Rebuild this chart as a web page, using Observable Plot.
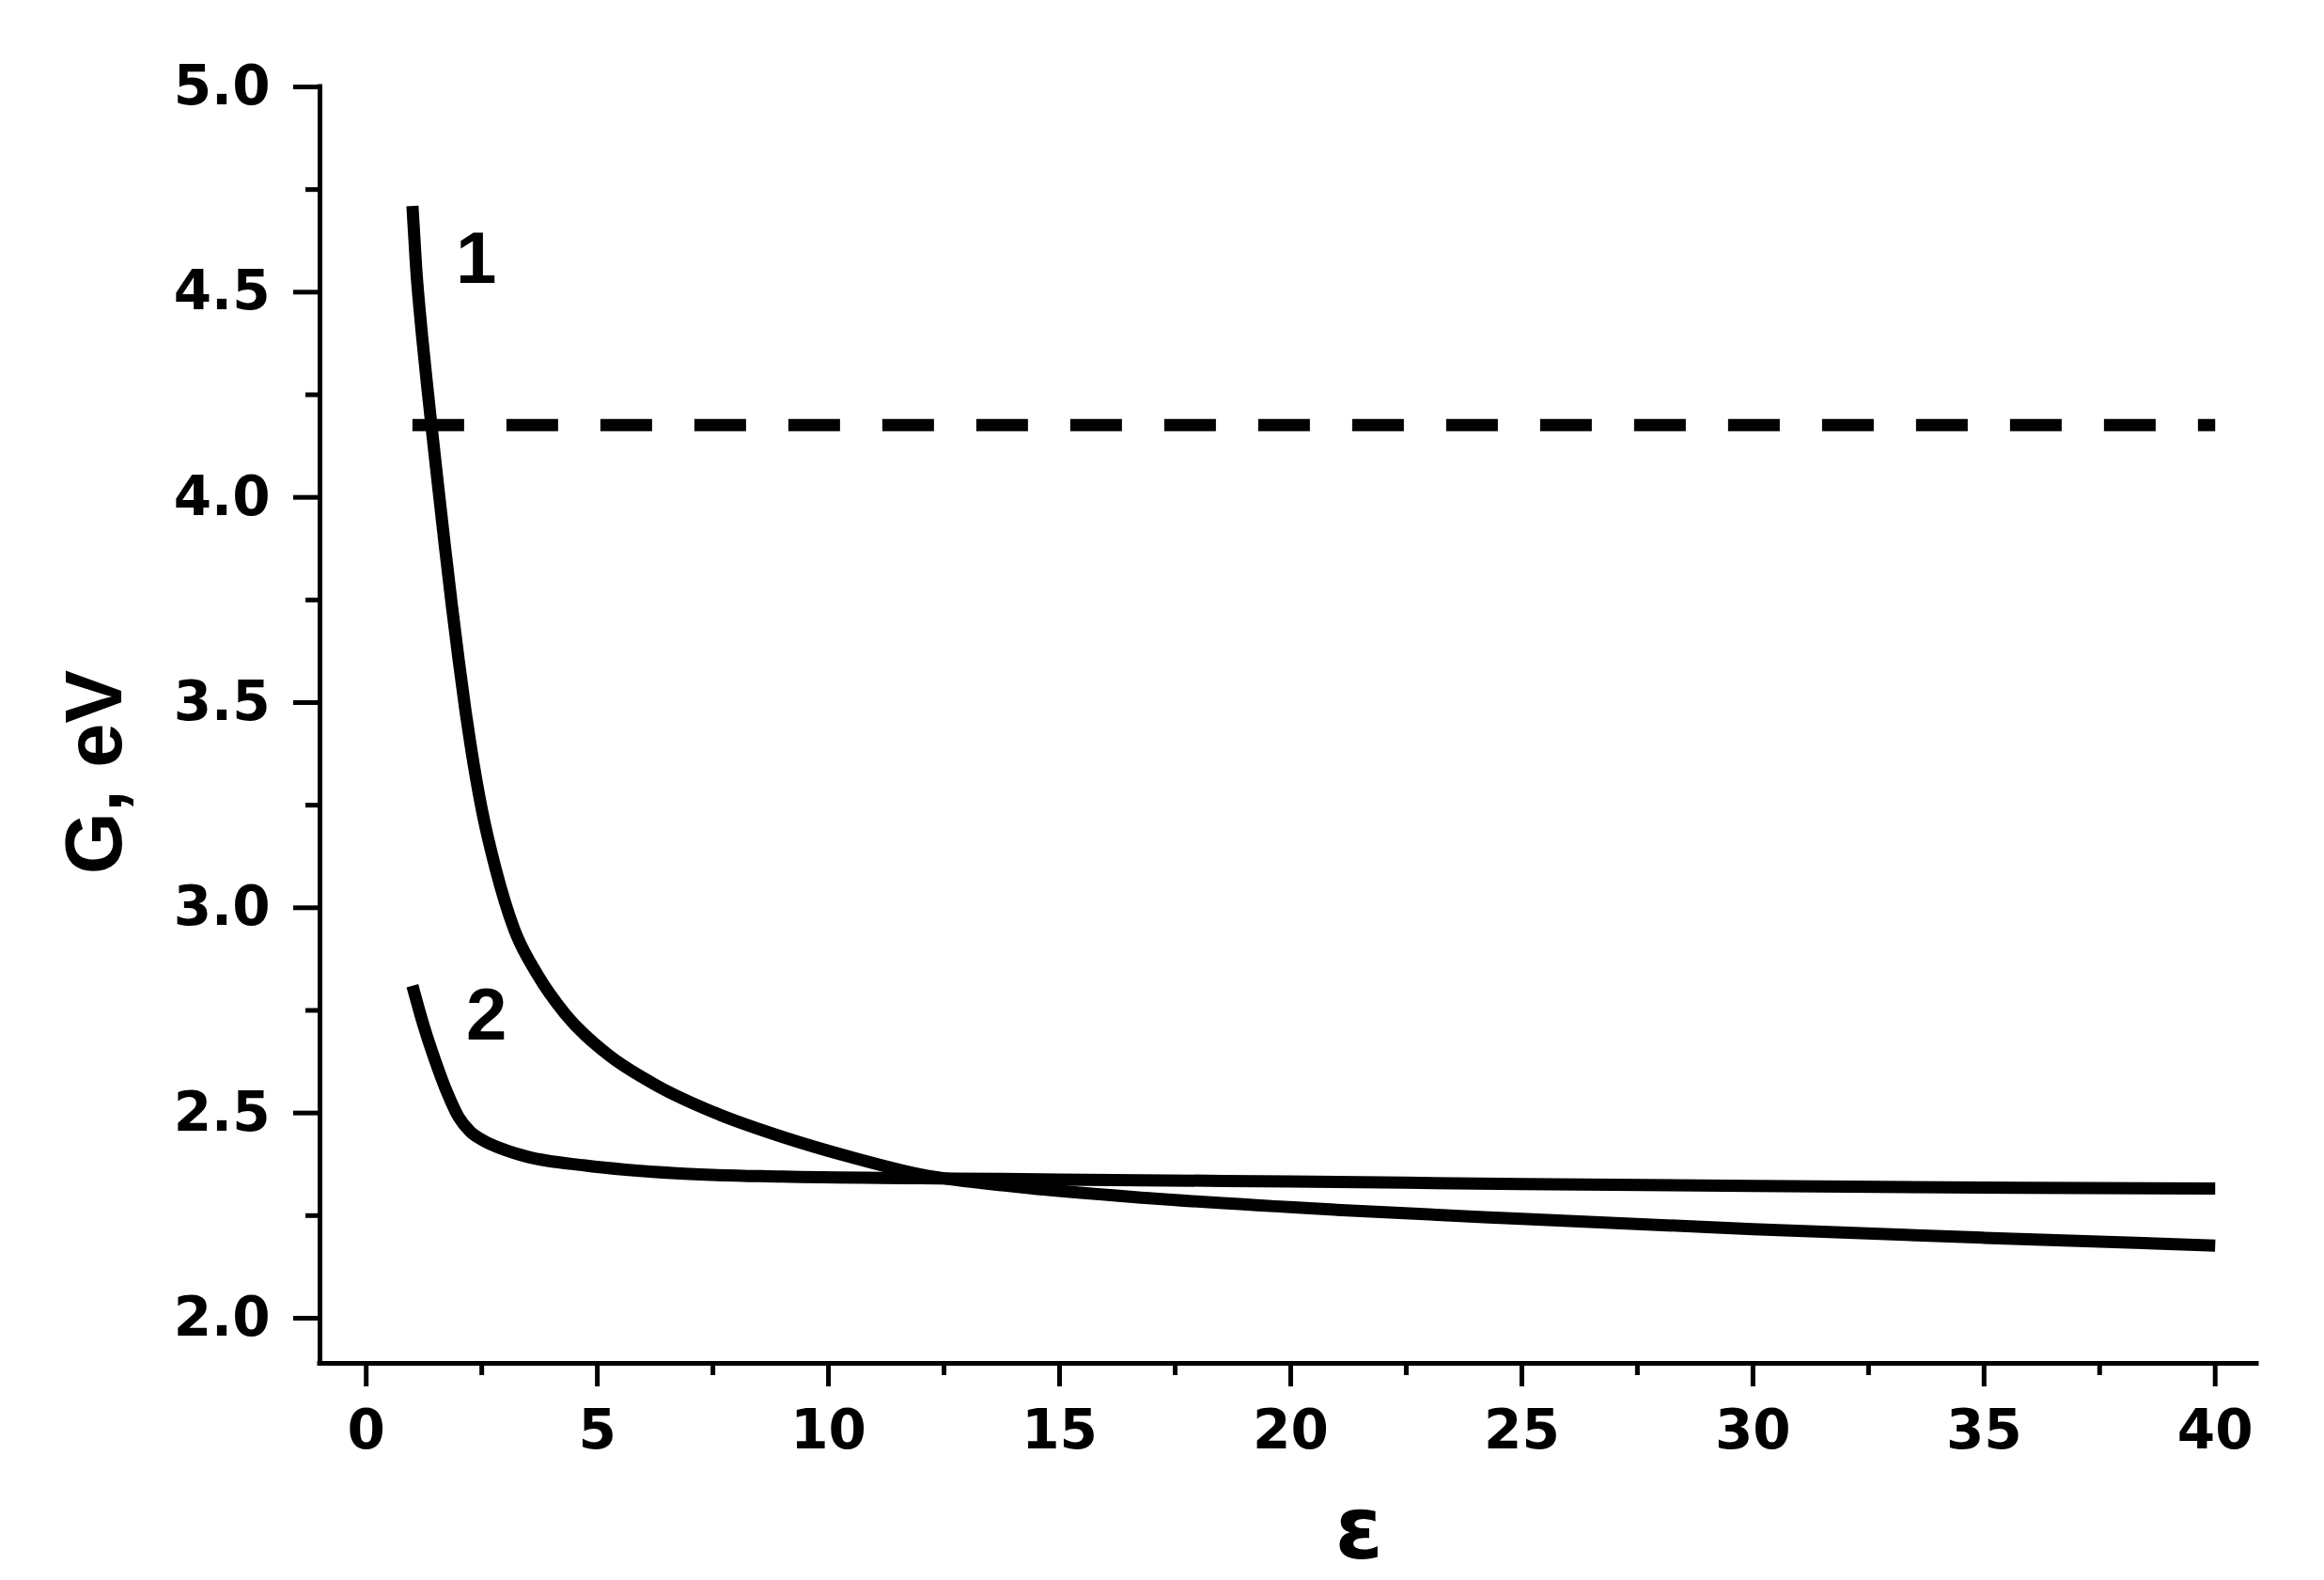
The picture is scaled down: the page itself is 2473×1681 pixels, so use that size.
<!DOCTYPE html>
<html>
<head>
<meta charset="utf-8">
<script src="https://cdn.jsdelivr.net/npm/d3@7"></script>
<script src="https://cdn.jsdelivr.net/npm/@observablehq/plot@0.6"></script>
<style>
  html, body { margin: 0; padding: 0; background: #ffffff; }
  #chart svg { display: block; }
</style>
</head>
<body>
<div id="chart"></div>
<script>
// ---- data ----
const curve1Eps = [1.0, 1.04, 1.08, 1.15, 1.22, 1.31, 1.41, 1.55, 1.70, 1.85, 2.0, 2.15, 2.26, 2.5, 2.8, 3.2, 3.7, 4.3, 5.2, 6.3, 7.6, 9.0, 10.5, 12.0, 14.0, 17.0, 21.0, 25.0, 30.0, 35.0, 40.0];
const curve1G   = [4.71, 4.635, 4.56, 4.463, 4.38, 4.281, 4.176, 4.033, 3.883, 3.739, 3.604, 3.478, 3.395, 3.24, 3.095, 2.948, 2.838, 2.742, 2.645, 2.566, 2.498, 2.442, 2.392, 2.35, 2.321, 2.292, 2.264, 2.242, 2.217, 2.196, 2.177];

const curve2Eps = [1.0, 1.25, 1.5, 1.75, 2.0, 2.25, 2.5, 3.0, 3.5, 4.74, 6.7, 9.0, 12.0, 15.0, 20.0, 25.0, 30.0, 35.0, 40.0];
const curve2G   = [2.81, 2.71, 2.625, 2.55, 2.49, 2.455, 2.435, 2.41, 2.393, 2.372, 2.353, 2.345, 2.341, 2.338, 2.333, 2.327, 2.322, 2.318, 2.316];

const dashedEps = [1.0, 40.0];
const dashedG   = [4.176, 4.176];

const curveLabelText = ["1", "2"];
const curveLabelEps  = [2.38, 2.6];
const curveLabelG    = [4.58, 2.737];

const xMajorTicks = [0, 5, 10, 15, 20, 25, 30, 35, 40];
const xMinorTicks = [2.5, 7.5, 12.5, 17.5, 22.5, 27.5, 32.5, 37.5];
const yMajorTicks = [2.0, 2.5, 3.0, 3.5, 4.0, 4.5, 5.0];
const yMinorTicks = [2.25, 2.75, 3.25, 3.75, 4.25, 4.75];

const xDomain = [-1, 40.9];
const yDomain = [1.89, 5.0];

const xTitle = "ε";
const yTitle = "G, eV";

// ---- tables built from the arrays ----
const curve1 = curve1Eps.map((e, i) => ({eps: e, g: curve1G[i]}));
const curve2 = curve2Eps.map((e, i) => ({eps: e, g: curve2G[i]}));
const dashed = dashedEps.map((e, i) => ({eps: e, g: dashedG[i]}));
const curveLabels = curveLabelText.map((t, i) => ({t, eps: curveLabelEps[i], g: curveLabelG[i]}));

const tickFont = {fontFamily: "DejaVu Sans", fontWeight: "bold", fontSize: 58};

const svg = Plot.plot({
  width: 2473,
  height: 1681,
  marginLeft: 340,
  marginRight: 72,
  marginTop: 92,
  marginBottom: 231,
  style: {background: "#ffffff", color: "#000000"},
  x: {domain: xDomain, axis: null},
  y: {domain: yDomain, axis: null},
  marks: [
    // axis lines
    Plot.ruleX([xDomain[0]], {stroke: "#000", strokeWidth: 5, strokeLinecap: "square"}),
    Plot.ruleY([yDomain[0]], {stroke: "#000", strokeWidth: 5, strokeLinecap: "square"}),
    // major / minor ticks
    Plot.axisX(xMajorTicks, {anchor: "bottom", tickSize: 25, tickPadding: 24, strokeWidth: 5, label: null, tickFormat: d => String(d), fill: "#000", ...tickFont}),
    Plot.axisX(xMinorTicks, {anchor: "bottom", tickSize: 13, strokeWidth: 5, text: null, label: null}),
    Plot.axisY(yMajorTicks, {anchor: "left", tickSize: 28, tickPadding: 25, strokeWidth: 5, label: null, tickFormat: d => d.toFixed(1), fill: "#000", ...tickFont}),
    Plot.axisY(yMinorTicks, {anchor: "left", tickSize: 15, strokeWidth: 5, text: null, label: null}),
    // curves
    Plot.line(dashed, {x: "eps", y: "g", stroke: "#000", strokeWidth: 13, strokeDasharray: "55,45", strokeLinecap: "butt"}),
    Plot.line(curve1, {x: "eps", y: "g", stroke: "#000", strokeWidth: 13, curve: "monotone-x", strokeLinecap: "butt", strokeLinejoin: "round"}),
    Plot.line(curve2, {x: "eps", y: "g", stroke: "#000", strokeWidth: 13, curve: "monotone-x", strokeLinecap: "butt", strokeLinejoin: "round"}),
    // curve labels
    Plot.text(curveLabels, {x: "eps", y: "g", text: "t", fontFamily: "Liberation Sans", fontWeight: "bold", fontSize: 78, fill: "#000"}),
    // axis titles
    Plot.text([xTitle], {frameAnchor: "bottom", textAnchor: "middle", lineAnchor: "middle", dx: 75, dy: 178, text: d => d, fontFamily: "DejaVu Sans", fontWeight: "bold", fontSize: 92, fill: "#000"}),
    Plot.text([yTitle], {frameAnchor: "left", textAnchor: "middle", lineAnchor: "middle", dx: -239, dy: 50, rotate: -90, text: d => d, fontFamily: "Liberation Sans", fontWeight: "bold", fontSize: 85, fill: "#000", ariaLabel: "ytitle"})
  ]
});

// stretch the rotated y title across (glyph height direction), as in the reference
d3.select(svg).selectAll('g[aria-label="ytitle"] text').each(function() {
  const t = this.getAttribute("transform") || "";
  const m = t.match(/translate\(([^)]+)\)/);
  if (m) {
    this.setAttribute("transform", `translate(${m[1]}) scale(1.23,1) rotate(-90)`);
  }
});

document.getElementById("chart").appendChild(svg);
</script>
</body>
</html>
